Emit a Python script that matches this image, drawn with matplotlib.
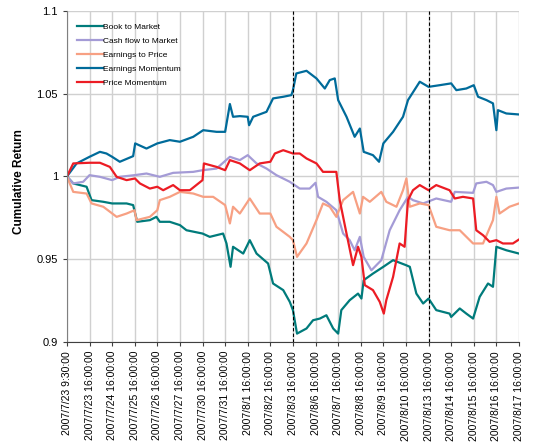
import matplotlib
matplotlib.use("Agg")
import matplotlib.pyplot as plt

plt.rcParams['font.family'] = ['Liberation Sans', 'DejaVu Sans']

# x labels (one per trading day)
x_labels = ["2007/7/23 9:30:00", "2007/7/23 16:00:00", "2007/7/24 16:00:00",
            "2007/7/25 16:00:00", "2007/7/26 16:00:00", "2007/7/27 16:00:00",
            "2007/7/30 16:00:00", "2007/7/31 16:00:00", "2007/8/1 16:00:00",
            "2007/8/2 16:00:00", "2007/8/3 16:00:00", "2007/8/6 16:00:00",
            "2007/8/7 16:00:00", "2007/8/8 16:00:00", "2007/8/9 16:00:00",
            "2007/8/10 16:00:00", "2007/8/13 16:00:00", "2007/8/14 16:00:00",
            "2007/8/15 16:00:00", "2007/8/16 16:00:00", "2007/8/17 16:00:00"]
dashed_days = [10, 16]

# series (position in days, cumulative return)
btm_t = [0, 0.28, 0.87, 1.09, 1.61, 2.0, 2.64, 2.93, 3.11, 3.67, 3.96, 4.11, 4.55, 5.0,
         5.29, 6.0, 6.32, 6.91, 7.06, 7.24, 7.35, 7.80, 8.09, 8.39, 8.90, 9.12, 9.57,
         9.86, 10.0, 10.18, 10.60, 10.89, 11.19, 11.48, 11.78, 12.0, 12.14, 12.51,
         12.88, 13.03, 13.13, 13.54, 14.0, 14.43, 15.0, 15.17, 15.46, 15.76, 16.0,
         16.34, 16.93, 17.0, 17.38, 17.67, 17.97, 18.26, 18.63, 18.85, 19.0, 19.44, 20.0]
btm_v = [1.0, 0.9958, 0.9938, 0.9857, 0.9847, 0.9837, 0.9837, 0.9827, 0.9726, 0.9736,
         0.9756, 0.9726, 0.9726, 0.9706, 0.9675, 0.9655, 0.9635, 0.9655, 0.9595, 0.9454,
         0.9575, 0.9534, 0.9615, 0.9534, 0.9474, 0.9353, 0.9313, 0.9242, 0.9192, 0.9050,
         0.9081, 0.9131, 0.9141, 0.9161, 0.9081, 0.9050, 0.9192, 0.9252, 0.9292, 0.9262,
         0.9373, 0.9413, 0.9454, 0.9494, 0.9464, 0.9454, 0.9292, 0.9232, 0.9262, 0.9192,
         0.9171, 0.9151, 0.9202, 0.9171, 0.9141, 0.9272, 0.9353, 0.9333, 0.9575, 0.9554,
         0.9534]

cfm_t = [0, 0.28, 0.72, 1.0, 1.46, 2.0, 2.34, 2.99, 3.52, 4.11, 4.70, 5.59, 6.0, 6.62,
         7.21, 7.65, 8.0, 8.39, 8.83, 9.27, 9.86, 10.30, 10.74, 11.0, 11.11, 11.48, 11.92,
         12.22, 12.51, 12.73, 12.96, 13.13, 13.47, 13.91, 14.28, 14.72, 15.09, 15.31,
         15.76, 16.34, 17.0, 17.16, 17.97, 18.11, 18.56, 18.85, 19.0, 19.44, 20.0]
cfm_v = [1.0, 0.9958, 0.9968, 1.0008, 0.9998, 0.9978, 0.9998, 1.0008, 1.0018, 0.9998,
         1.0022, 1.0028, 1.0038, 1.0048, 1.0119, 1.0099, 1.0129, 1.0079, 1.0048, 1.0008,
         0.9968, 0.9927, 0.9927, 0.9962, 0.9877, 0.9847, 0.9796, 0.9655, 0.9615, 0.9554,
         0.9635, 0.9514, 0.9433, 0.9494, 0.9675, 0.9796, 0.9877, 0.9857, 0.9837, 0.9867,
         0.9847, 0.9907, 0.9901, 0.9958, 0.9968, 0.9948, 0.9907, 0.9927, 0.9933]

etp_t = [0, 0.28, 0.87, 1.09, 1.61, 2.20, 2.64, 2.99, 3.08, 3.67, 4.0, 4.11, 4.55, 5.0,
         5.59, 6.03, 6.47, 7.0, 7.21, 7.35, 7.65, 8.09, 8.53, 9.0, 9.27, 9.86, 10.0, 10.18,
         10.60, 11.04, 11.33, 11.63, 11.92, 12.22, 12.66, 12.96, 13.10, 13.40, 13.91,
         14.13, 14.58, 14.87, 15.02, 15.17, 15.61, 16.0, 16.34, 16.93, 17.38, 17.97,
         18.41, 18.85, 19.0, 19.14, 19.58, 20.0]
etp_v = [1.0, 0.9907, 0.9897, 0.9837, 0.9817, 0.9756, 0.9776, 0.9796, 0.9736, 0.9756,
         0.9796, 0.9857, 0.9877, 0.9907, 0.9897, 0.9877, 0.9877, 0.9827, 0.9716, 0.9817,
         0.9776, 0.9867, 0.9776, 0.9776, 0.9696, 0.9635, 0.9615, 0.9514, 0.9595, 0.9736,
         0.9837, 0.9817, 0.9756, 0.9857, 0.9907, 0.9776, 0.9877, 0.9847, 0.9907, 0.9847,
         0.9817, 0.9917, 0.9988, 0.9817, 0.9837, 0.9827, 0.9696, 0.9675, 0.9675, 0.9595,
         0.9595, 0.9736, 0.9877, 0.9776, 0.9817, 0.9837]

em_t = [0, 0.43, 1.0, 1.46, 1.75, 2.0, 2.34, 2.93, 3.02, 3.52, 4.0, 4.55, 5.0, 5.59,
        6.03, 6.62, 7.0, 7.21, 7.35, 7.65, 8.0, 8.06, 8.24, 8.83, 9.12, 9.57, 9.93, 10.0,
        10.15, 10.60, 11.04, 11.41, 11.63, 11.85, 12.0, 12.37, 12.73, 12.96, 13.13,
        13.54, 13.81, 14.0, 14.43, 14.87, 15.09, 15.61, 16.0, 16.49, 17.0, 17.23, 17.67,
        18.0, 18.19, 18.56, 18.85, 19.0, 19.07, 19.44, 20.0]
em_v = [1.0, 1.0079, 1.0119, 1.0149, 1.0139, 1.0119, 1.0089, 1.0123, 1.0200, 1.0169,
        1.0200, 1.0220, 1.0210, 1.0240, 1.0280, 1.0270, 1.0270, 1.0438, 1.0361, 1.0365,
        1.0361, 1.0310, 1.0361, 1.0391, 1.0472, 1.0482, 1.0492, 1.0522, 1.0623, 1.0639,
        1.0593, 1.0532, 1.0583, 1.0593, 1.0462, 1.0361, 1.0240, 1.0290, 1.0149, 1.0129,
        1.0089, 1.0200, 1.0270, 1.0361, 1.0462, 1.0573, 1.0542, 1.0552, 1.0563, 1.0522,
        1.0532, 1.0552, 1.0482, 1.0462, 1.0442, 1.0280, 1.0401, 1.0381, 1.0375]

pm_t = [0, 0.28, 1.0, 1.46, 1.90, 2.20, 2.64, 3.01, 3.23, 3.67, 4.0, 4.26, 4.70, 5.0,
        5.44, 6.0, 6.06, 6.62, 7.0, 7.21, 7.65, 8.09, 8.53, 9.0, 9.20, 9.57, 10.0, 10.30,
        10.60, 11.04, 11.33, 11.92, 12.07, 12.37, 12.66, 12.88, 13.03, 13.18, 13.54,
        13.84, 14.02, 14.13, 14.43, 14.72, 14.94, 15.09, 15.31, 15.61, 16.0, 16.34,
        16.93, 17.16, 17.52, 17.97, 18.11, 18.41, 18.70, 19.0, 19.29, 19.73, 20.0]
pm_v = [1.0, 1.0079, 1.0083, 1.0083, 1.0058, 0.9998, 0.9978, 0.9988, 0.9958, 0.9927,
        0.9938, 0.9917, 0.9948, 0.9917, 0.9917, 0.9978, 1.0079, 1.0058, 1.0038, 1.0099,
        1.0079, 1.0038, 1.0079, 1.0089, 1.0139, 1.0159, 1.0139, 1.0139, 1.0109, 1.0079,
        1.0028, 1.0028, 0.9857, 0.9655, 0.9464, 0.9575, 0.9514, 0.9343, 0.9313, 0.9242,
        0.9171, 0.9252, 0.9393, 0.9595, 0.9575, 0.9857, 0.9917, 0.9948, 0.9917, 0.9948,
        0.9917, 0.9867, 0.9877, 0.9867, 0.9675, 0.9645, 0.9605, 0.9615, 0.9595, 0.9595,
        0.9619]

series = [
    ("Book to Market", btm_t, btm_v, "#007b7b"),
    ("Cash flow to Market", cfm_t, cfm_v, "#a49bd6"),
    ("Earnings to Price", etp_t, etp_v, "#f7a083"),
    ("Earnings Momentum", em_t, em_v, "#006b9a"),
    ("Price Momentum", pm_t, pm_v, "#ec1c24"),
]

fig = plt.figure(figsize=(5.44, 4.44), dpi=100)
ax = fig.add_axes([0.123, 0.23, 0.831, 0.745])

for name, t, v, c in series:
    ax.plot(t, v, color=c, lw=1.6, label=name)

for d in dashed_days:
    ax.axvline(d, color="black", lw=0.8, ls=(0, (3, 2)), zorder=5)

ax.set_xlim(0, 20)
ax.set_ylim(0.9, 1.1)
ax.set_yticks([0.9, 0.95, 1.0, 1.05, 1.1])
ax.set_yticklabels(["0.9", "0.95", "1", "1.05", "1.1"], fontsize=8)
ax.set_xticks(range(len(x_labels)))
ax.set_xticklabels(x_labels, rotation=90, fontsize=7.5)
ax.grid(True, color="#d0d0d0", lw=1.0)
ax.set_axisbelow(True)
for s in ["top", "right"]:
    ax.spines[s].set_visible(False)
ax.spines["left"].set_color("#808080")
ax.spines["bottom"].set_color("#404040")
ax.tick_params(axis="both", length=3, color="#404040")
ax.set_ylabel("Cumulative Return", fontsize=8.5, fontweight="bold")
ax.yaxis.set_label_coords(-0.093, 0.486)

ax.legend(loc="upper left", frameon=False, fontsize=6, handlelength=3.2,
          handletextpad=0.0, labelspacing=0.72, bbox_to_anchor=(0.005, 0.985))

fig.savefig("out.png", dpi=100)
